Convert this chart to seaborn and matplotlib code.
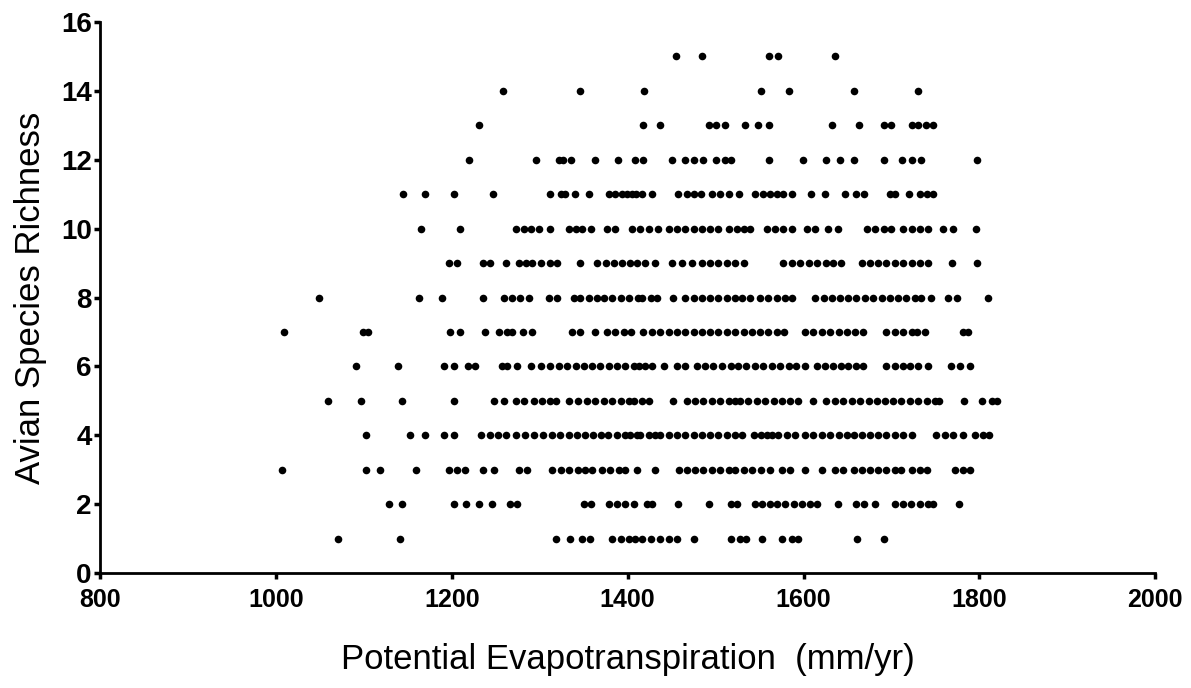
"""
Avian species richness vs potential evapotranspiration scatter
"""

import pandas as pd
import seaborn as sns
import matplotlib.pyplot as plt

# PET values (mm/yr), one list per richness level
pet_15 = [1455, 1485, 1561, 1571, 1636]
pet_14 = [1258, 1346, 1419, 1552, 1583, 1657, 1730]
pet_13 = [1231, 1417, 1437, 1492, 1501, 1511, 1534, 1548, 1561, 1632, 1663,
          1692, 1700, 1723, 1730, 1739, 1747]
pet_12 = [1220, 1296, 1322, 1327, 1336, 1363, 1389, 1408, 1418, 1450, 1465,
          1475, 1486, 1501, 1511, 1518, 1561, 1599, 1626, 1641, 1657, 1692,
          1712, 1723, 1734, 1797]
pet_11 = [1145, 1170, 1203, 1247, 1312, 1324, 1329, 1340, 1356, 1379, 1386,
          1394, 1399, 1405, 1410, 1416, 1428, 1457, 1467, 1475, 1483, 1496,
          1505, 1515, 1527, 1545, 1554, 1562, 1570, 1577, 1587, 1609, 1624,
          1647, 1660, 1669, 1698, 1704, 1720, 1732, 1740, 1747]
pet_10 = [1165, 1209, 1273, 1282, 1290, 1299, 1312, 1333, 1341, 1348, 1358,
          1377, 1386, 1405, 1414, 1424, 1435, 1447, 1456, 1465, 1475, 1484,
          1494, 1503, 1515, 1524, 1532, 1539, 1558, 1568, 1577, 1587, 1604,
          1613, 1628, 1639, 1672, 1681, 1691, 1700, 1713, 1723, 1732, 1742,
          1759, 1770, 1796]
pet_9 = [1197, 1206, 1235, 1244, 1262, 1276, 1284, 1291, 1301, 1312, 1320,
         1346, 1365, 1375, 1384, 1394, 1403, 1411, 1420, 1431, 1450, 1462,
         1473, 1484, 1494, 1503, 1513, 1522, 1532, 1577, 1587, 1596, 1606,
         1615, 1625, 1634, 1643, 1666, 1676, 1685, 1694, 1704, 1713, 1723,
         1732, 1742, 1769, 1797]
pet_8 = [1049, 1163, 1189, 1235, 1259, 1269, 1278, 1288, 1310, 1320, 1339,
         1346, 1356, 1365, 1373, 1382, 1392, 1401, 1412, 1416, 1426, 1433,
         1452, 1465, 1475, 1484, 1494, 1503, 1513, 1522, 1530, 1539, 1550,
         1560, 1570, 1579, 1587, 1613, 1623, 1632, 1642, 1651, 1660, 1670,
         1679, 1689, 1698, 1708, 1717, 1727, 1734, 1745, 1764, 1774, 1810]
pet_7 = [1009, 1099, 1105, 1198, 1209, 1238, 1254, 1263, 1269, 1281, 1291,
         1337, 1346, 1363, 1377, 1386, 1396, 1404, 1418, 1428, 1437, 1447,
         1456, 1465, 1475, 1484, 1494, 1503, 1513, 1522, 1532, 1541, 1551,
         1560, 1570, 1578, 1602, 1611, 1621, 1630, 1640, 1649, 1659, 1668,
         1694, 1704, 1713, 1723, 1729, 1738, 1781, 1787]
pet_6 = [1091, 1139, 1191, 1203, 1218, 1226, 1257, 1263, 1274, 1290, 1302,
         1312, 1322, 1331, 1341, 1350, 1360, 1369, 1379, 1388, 1397, 1407,
         1413, 1420, 1428, 1441, 1456, 1465, 1479, 1488, 1497, 1507, 1517,
         1526, 1535, 1545, 1554, 1564, 1573, 1583, 1592, 1602, 1615, 1624,
         1634, 1643, 1651, 1660, 1668, 1694, 1704, 1713, 1721, 1730, 1742,
         1768, 1778, 1789]
pet_5 = [1059, 1097, 1143, 1203, 1248, 1259, 1273, 1282, 1293, 1303, 1312,
         1319, 1333, 1344, 1354, 1363, 1373, 1382, 1392, 1401, 1407, 1416,
         1424, 1452, 1467, 1477, 1486, 1496, 1505, 1515, 1522, 1528, 1537,
         1547, 1556, 1566, 1575, 1585, 1594, 1611, 1626, 1636, 1645, 1655,
         1664, 1674, 1683, 1693, 1702, 1711, 1721, 1730, 1740, 1749, 1754,
         1783, 1803, 1814, 1820]
pet_4 = [1103, 1153, 1169, 1191, 1203, 1233, 1243, 1252, 1262, 1273, 1283,
         1293, 1304, 1314, 1323, 1333, 1342, 1352, 1361, 1370, 1378, 1388,
         1397, 1403, 1411, 1414, 1424, 1431, 1437, 1447, 1456, 1465, 1475,
         1484, 1494, 1503, 1513, 1522, 1530, 1544, 1552, 1558, 1564, 1571,
         1581, 1590, 1602, 1611, 1621, 1630, 1640, 1649, 1657, 1666, 1676,
         1685, 1694, 1704, 1713, 1723, 1751, 1761, 1770, 1781, 1795, 1804,
         1811]
pet_3 = [1007, 1102, 1118, 1159, 1197, 1206, 1215, 1235, 1248, 1276, 1286,
         1314, 1324, 1333, 1343, 1352, 1360, 1371, 1380, 1390, 1397, 1411,
         1431, 1458, 1467, 1477, 1486, 1496, 1505, 1515, 1522, 1532, 1541,
         1552, 1562, 1575, 1585, 1602, 1621, 1636, 1645, 1657, 1666, 1676,
         1685, 1694, 1704, 1711, 1723, 1732, 1740, 1772, 1781, 1789]
pet_2 = [1129, 1143, 1203, 1216, 1231, 1246, 1266, 1274, 1350, 1358, 1379,
         1388, 1397, 1407, 1422, 1428, 1457, 1492, 1517, 1524, 1545, 1553,
         1562, 1570, 1579, 1589, 1598, 1607, 1615, 1639, 1660, 1669, 1681,
         1704, 1713, 1722, 1732, 1742, 1747, 1777]
pet_1 = [1071, 1141, 1319, 1335, 1348, 1357, 1382, 1392, 1401, 1408, 1416,
         1426, 1437, 1447, 1456, 1475, 1518, 1528, 1535, 1553, 1576, 1587,
         1594, 1661, 1692]

rows = {1: pet_1, 2: pet_2, 3: pet_3, 4: pet_4, 5: pet_5, 6: pet_6, 7: pet_7,
        8: pet_8, 9: pet_9, 10: pet_10, 11: pet_11, 12: pet_12, 13: pet_13,
        14: pet_14, 15: pet_15}

x_ticks = [800, 1000, 1200, 1400, 1600, 1800, 2000]
y_ticks = [0, 2, 4, 6, 8, 10, 12, 14, 16]


def plot_richness():
    df = pd.DataFrame(
        [(pet, rich) for rich, vals in rows.items() for pet in vals],
        columns=["PET", "Richness"],
    )

    sns.set_style("ticks")
    plt.rcParams["font.family"] = ["Liberation Sans", "DejaVu Sans"]
    plt.rcParams["text.color"] = "black"
    plt.rcParams["axes.labelcolor"] = "black"
    plt.rcParams["xtick.color"] = "black"
    plt.rcParams["ytick.color"] = "black"

    fig = plt.figure(figsize=(11.91, 6.88), dpi=100)
    ax = fig.add_axes([0.084, 0.167, 0.886, 0.801])

    sns.scatterplot(data=df, x="PET", y="Richness", ax=ax,
                    color="black", s=30, linewidth=0)

    ax.set_xlim(800, 2000)
    ax.set_ylim(0, 16)
    ax.set_xticks(x_ticks)
    ax.set_yticks(y_ticks)
    ax.tick_params(width=2.5, length=4, direction="out")
    ax.tick_params(axis="x", labelsize=18, pad=7)
    ax.tick_params(axis="y", labelsize=20, pad=2)
    for lab in ax.get_xticklabels() + ax.get_yticklabels():
        lab.set_fontweight("bold")

    sns.despine(ax=ax)
    for side in ("left", "bottom"):
        ax.spines[side].set_linewidth(2)
        ax.spines[side].set_color("black")

    ax.set_xlabel("Potential Evapotranspiration  (mm/yr)", fontsize=25, labelpad=22)
    ax.set_ylabel("Avian Species Richness", fontsize=25, labelpad=10)

    fig.savefig("out.png", dpi=100)


if __name__ == "__main__":
    plot_richness()
